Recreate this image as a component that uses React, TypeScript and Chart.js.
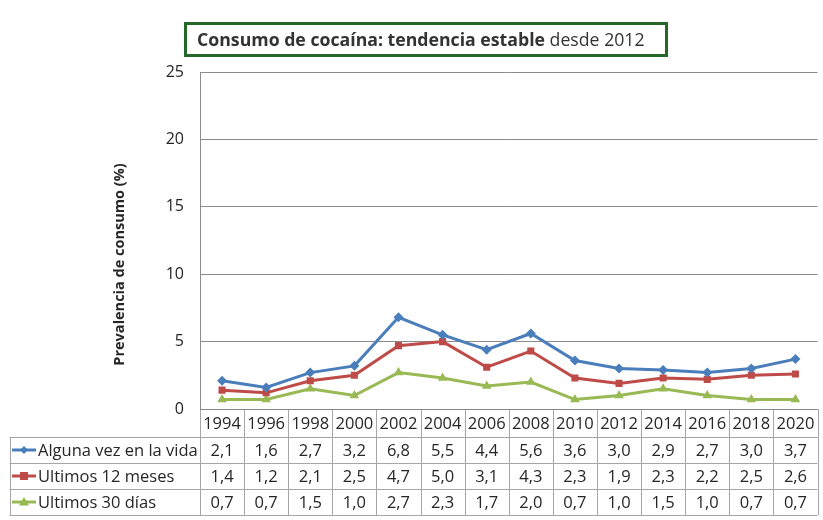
import React, { useEffect, useRef } from "react";
import { Chart, registerables } from "chart.js";

Chart.register(...registerables);

const years = ["1994", "1996", "1998", "2000", "2002", "2004", "2006", "2008", "2010", "2012", "2014", "2016", "2018", "2020"];
const alguna = [2.1, 1.6, 2.7, 3.2, 6.8, 5.5, 4.4, 5.6, 3.6, 3.0, 2.9, 2.7, 3.0, 3.7];
const ultimos12 = [1.4, 1.2, 2.1, 2.5, 4.7, 5.0, 3.1, 4.3, 2.3, 1.9, 2.3, 2.2, 2.5, 2.6];
const ultimos30 = [0.7, 0.7, 1.5, 1.0, 2.7, 2.3, 1.7, 2.0, 0.7, 1.0, 1.5, 1.0, 0.7, 0.7];
const seriesNames = ["Alguna vez en la vida", "Ultimos 12 meses", "Ultimos 30 días"];
const seriesColors = ["#4A7EBB", "#BE4B48", "#98B954"];
const seriesStyles = ["rectRot", "rect", "triangle"];
const yMin = 0;
const yMax = 25;
const yStep = 5;
const titleBold = "Consumo de cocaína: tendencia estable ";
const titleNormal = "desde 2012";
const yTitle = "Prevalencia de consumo (%)";

const FONT = "'Open Sans', sans-serif";
const TEXT = "#262626";

function drawMarker(ctx: CanvasRenderingContext2D, style: string, x: number, y: number, r: number, color: string) {
  ctx.save();
  ctx.fillStyle = color;
  ctx.beginPath();
  if (style === "rectRot") {
    ctx.moveTo(x, y - r);
    ctx.lineTo(x + r, y);
    ctx.lineTo(x, y + r);
    ctx.lineTo(x - r, y);
  } else if (style === "rect") {
    ctx.rect(x - r * 0.8, y - r * 0.8, r * 1.6, r * 1.6);
  } else {
    ctx.moveTo(x, y - r);
    ctx.lineTo(x + r, y + r * 0.7);
    ctx.lineTo(x - r, y + r * 0.7);
  }
  ctx.closePath();
  ctx.fill();
  ctx.restore();
}

const fmt = (v: number) => v.toFixed(1).replace(".", ",");

const decorPlugin = {
  id: "decor",
  afterDraw(chart: any) {
    const ctx: CanvasRenderingContext2D = chart.ctx;
    const { left, right, bottom, top } = chart.chartArea;
    const x = chart.scales.x;
    const n = years.length;
    const centers = years.map((_, i) => x.getPixelForValue(i));
    const half = n > 1 ? (centers[1] - centers[0]) / 2 : (right - left) / 2;
    const bounds = [centers[0] - half, ...centers.map((c) => c + half)];
    const legendLeft = 9.5;
    const headerBottom = bottom + 28;
    const rowH = 26;
    const tableBottom = headerBottom + rowH * 3;
    const data = [alguna, ultimos12, ultimos30];

    ctx.save();
    ctx.lineWidth = 1;
    ctx.strokeStyle = "#a6a6a6";
    const hl = (x1: number, x2: number, y: number) => {
      ctx.beginPath();
      ctx.moveTo(x1, Math.round(y) + 0.5);
      ctx.lineTo(x2, Math.round(y) + 0.5);
      ctx.stroke();
    };
    const vl = (xx: number, y1: number, y2: number) => {
      ctx.beginPath();
      ctx.moveTo(Math.round(xx) + 0.5, y1);
      ctx.lineTo(Math.round(xx) + 0.5, y2);
      ctx.stroke();
    };
    for (let r = 0; r <= 3; r++) hl(legendLeft, right, headerBottom + r * rowH);
    bounds.forEach((b) => vl(b, bottom, tableBottom));
    vl(legendLeft, headerBottom, tableBottom);
    ctx.strokeStyle = "#868686";
    hl(left, right, bottom);

    ctx.fillStyle = TEXT;
    ctx.font = `16.5px ${FONT}`;
    ctx.textAlign = "center";
    ctx.textBaseline = "middle";
    centers.forEach((c, i) => ctx.fillText(years[i], c, (bottom + headerBottom) / 2 + 1));
    data.forEach((arr, r) => {
      const cy = headerBottom + rowH * r + rowH / 2 + 1;
      arr.forEach((v, i) => ctx.fillText(fmt(v), centers[i], cy));
    });

    data.forEach((_, r) => {
      const cy = headerBottom + rowH * r + rowH / 2;
      ctx.strokeStyle = seriesColors[r];
      ctx.lineWidth = 3;
      ctx.beginPath();
      ctx.moveTo(12, cy);
      ctx.lineTo(36, cy);
      ctx.stroke();
      drawMarker(ctx, seriesStyles[r], 24, cy, r === 0 ? 4 : 5, seriesColors[r]);
      ctx.fillStyle = TEXT;
      ctx.textAlign = "left";
      ctx.fillText(seriesNames[r], 38, cy + 1);
    });

    ctx.save();
    ctx.translate(120, (top + tableBottom) / 2 - 29);
    ctx.rotate(-Math.PI / 2);
    ctx.font = `bold 14.5px ${FONT}`;
    ctx.textAlign = "center";
    ctx.fillStyle = TEXT;
    ctx.fillText(yTitle, 0, 0);
    ctx.restore();

    ctx.strokeStyle = "#24692a";
    ctx.lineWidth = 3;
    ctx.strokeRect(185.5, 23.5, 481, 32);
    ctx.textAlign = "left";
    ctx.textBaseline = "alphabetic";
    ctx.fillStyle = "#333333";
    ctx.font = `bold 17.7px ${FONT}`;
    ctx.fillText(titleBold, 197, 46);
    const w = ctx.measureText(titleBold).width;
    ctx.font = `17.7px ${FONT}`;
    ctx.fillText(titleNormal, 197 + w, 46);
    ctx.restore();
  },
};

export default function App() {
  const ref = useRef<HTMLCanvasElement>(null);
  useEffect(() => {
    if (!ref.current) return;
    const ds = [alguna, ultimos12, ultimos30].map((d, i) => ({
      label: seriesNames[i],
      data: d,
      borderColor: seriesColors[i],
      backgroundColor: seriesColors[i],
      borderWidth: 3,
      pointStyle: seriesStyles[i] as any,
      pointRadius: i === 2 ? 5.5 : 5,
      pointBorderWidth: 0,
      tension: 0,
    }));
    const chart = new Chart(ref.current, {
      type: "line",
      data: { labels: years, datasets: ds },
      options: {
        responsive: false,
        animation: false,
        layout: { padding: { top: 72, bottom: 111, left: 0, right: 0 } },
        plugins: { legend: { display: false }, title: { display: false }, tooltip: { enabled: false } },
        scales: {
          x: { type: "category", offset: true, display: false },
          y: {
            min: yMin,
            max: yMax,
            afterFit: (s: any) => {
              s.width = 200;
            },
            ticks: { stepSize: yStep, color: TEXT, font: { family: FONT, size: 16 }, padding: 16 },
            grid: { color: "#8c8c8c", drawTicks: false },
            border: { color: "#8c8c8c" },
          },
        },
      },
      plugins: [decorPlugin],
    });
    return () => chart.destroy();
  }, []);
  return (
    <div style={{ position: "absolute", left: 0, top: 0, width: 823, height: 520, background: "#fff" }}>
      <canvas ref={ref} width={823} height={520} />
    </div>
  );
}
